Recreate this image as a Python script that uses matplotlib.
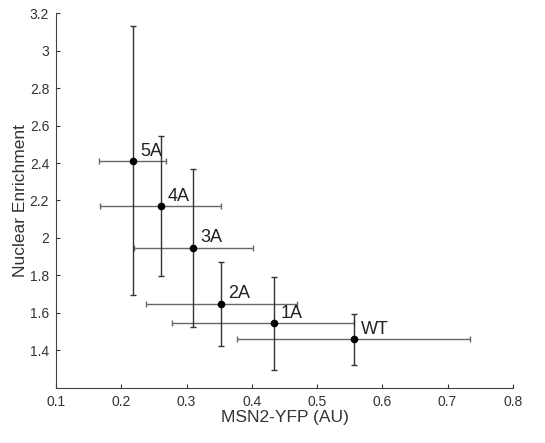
import numpy as np
import matplotlib
matplotlib.use("Agg")
import matplotlib.pyplot as plt

plt.rcParams['font.family'] = ['Liberation Sans', 'DejaVu Sans']

labels = ['5A', '4A', '3A', '2A', '1A', 'WT']
msn2 = [0.218, 0.260, 0.310, 0.353, 0.434, 0.556]
msn2_lo = [0.166, 0.167, 0.219, 0.238, 0.278, 0.377]
msn2_hi = [0.269, 0.352, 0.401, 0.469, 0.556, 0.735]
enrich = [2.41, 2.168, 1.948, 1.649, 1.544, 1.459]
enrich_lo = [1.695, 1.795, 1.525, 1.421, 1.293, 1.322]
enrich_hi = [3.132, 2.545, 2.369, 1.873, 1.793, 1.594]

x = np.array(msn2)
y = np.array(enrich)
xerr = [x - np.array(msn2_lo), np.array(msn2_hi) - x]
yerr = [y - np.array(enrich_lo), np.array(enrich_hi) - y]

fig = plt.figure(figsize=(5.45, 4.43), dpi=100)
ax = fig.add_axes([0.103, 0.125, 0.838, 0.845])

# horizontal bars lighter, vertical bars darker
ax.errorbar(x, y, xerr=xerr, fmt='none', ecolor='#666666', elinewidth=1.0,
            capsize=2, capthick=1.0)
ax.errorbar(x, y, yerr=yerr, fmt='none', ecolor='#333333', elinewidth=1.0,
            capsize=2, capthick=1.0)
ax.plot(x, y, 'o', color='black', markersize=4.5)

for xi, yi, lab in zip(x, y, labels):
    ax.annotate(lab, (xi, yi), xytext=(5, 4), textcoords='offset points',
                fontsize=13, color='#222222')

ax.set_xlim(0.1, 0.8)
ax.set_ylim(1.2, 3.2)
ax.set_xticks(np.arange(0.1, 0.81, 0.1))
ax.set_xticklabels(['0.1', '0.2', '0.3', '0.4', '0.5', '0.6', '0.7', '0.8'])
ax.set_yticks(np.arange(1.4, 3.21, 0.2))
ax.set_yticklabels(['1.4', '1.6', '1.8', '2', '2.2', '2.4', '2.6', '2.8', '3', '3.2'])
ax.tick_params(direction='in', length=3, labelsize=10, colors='#333333',
               labelcolor='#333333', pad=5)
ax.spines['top'].set_visible(False)
ax.spines['right'].set_visible(False)
for s in ['left', 'bottom']:
    ax.spines[s].set_color('#444444')
    ax.spines[s].set_linewidth(0.8)

ax.set_xlabel('MSN2-YFP (AU)', fontsize=12.5, color='#333333', labelpad=1)
ax.set_ylabel('Nuclear Enrichment', fontsize=12.5, color='#333333', labelpad=1)

fig.savefig('out.png', dpi=100)
